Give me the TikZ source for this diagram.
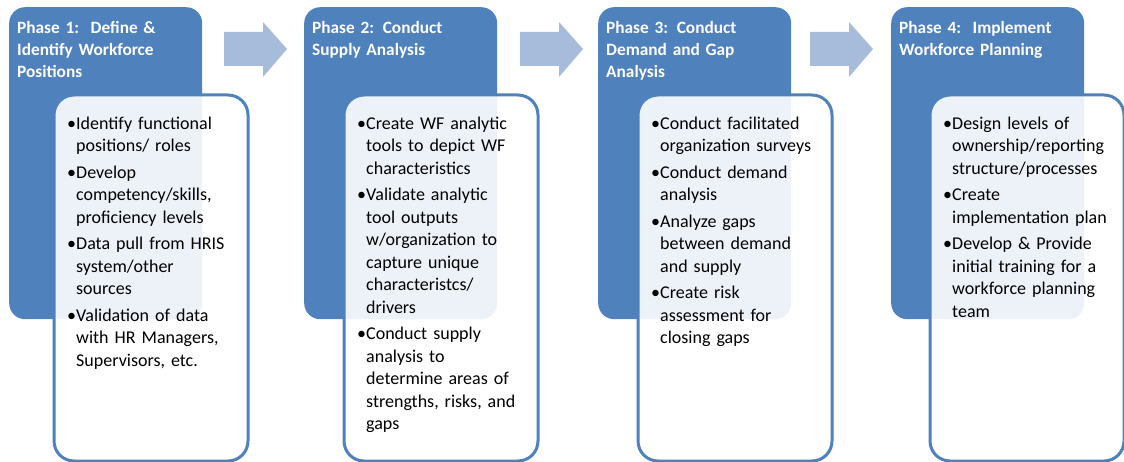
\documentclass[tikz,border=0pt]{standalone}
\usepackage{fontspec}
\setmainfont{Carlito}
\usepackage{xcolor}
\usepackage{tikz}
\usetikzlibrary{positioning}

\definecolor{phaseblue}{HTML}{4F81BD}
\definecolor{arrowblue}{HTML}{A7BBDA}
\newcommand{\bul}{\leavevmode\llap{\textbullet}}

\tikzset{
  headbox/.style={fill=phaseblue,rounded corners=16pt,anchor=north west,
    minimum width=193pt,minimum height=312pt,inner sep=0pt},
  bodybox/.style={draw=phaseblue,line width=3pt,fill=white,fill opacity=0.9,
    rounded corners=20pt,anchor=north west,minimum width=194pt,
    minimum height=366pt,inner sep=0pt},
  phasetitle/.style={anchor=base west,inner sep=0pt,text=white,align=left,
    text width=185pt,font=\fontsize{17.3}{22}\selectfont\bfseries},
  phaseitems/.style={anchor=base west,inner sep=0pt,align=left,
    text width=185pt,font=\fontsize{18}{22.5}\selectfont},
}

\begin{document}
\begin{tikzpicture}[x=1pt,y=-1pt,line cap=round]
\useasboundingbox (0,0) rectangle (1124,462);
% phase boxes
\foreach \i/\bx/\wx in {1/9/52.5,2/304/342.5,3/598/636.5,4/891/928.5}{
  \node[headbox] (head\i) at (\bx,7) {};
  \node[bodybox] (body\i) at (\wx,93.5) {};
}
% arrows between phases
\foreach \ax in {224,520,810}
  \fill[arrowblue] (\ax,32) -- (\ax+39,32) -- (\ax+39,22) -- (\ax+63,49)
    -- (\ax+39,77) -- (\ax+39,66) -- (\ax,66) -- cycle;
% titles
\node[phasetitle] (title1) at (17,34) {Phase 1:\ \ Define \&\\Identify Workforce\\Positions};
\node[phasetitle] (title2) at (312,34) {Phase 2: Conduct\\Supply Analysis};
\node[phasetitle] (title3) at (606,34) {Phase 3: Conduct\\Demand and Gap\\Analysis};
\node[phasetitle] (title4) at (899,34) {Phase 4:\ \ Implement\\Workforce Planning};
% bullet lists
\node[phaseitems] (list1) at (76,129.5) {\bul Identify functional\\positions/ roles\\[4pt]
  \bul Develop\\competency/skills,\\proficiency levels\\[4pt]
  \bul Data pull from HRIS\\system/other\\sources\\[4pt]
  \bul Validation of data\\with HR Managers,\\Supervisors, etc.};
\node[phaseitems] (list2) at (366,129.5) {\bul Create WF analytic\\tools to depict WF\\characteristics\\[4pt]
  \bul Validate analytic\\tool outputs\\w/organization to\\capture unique\\characteristcs/\\drivers\\[4pt]
  \bul Conduct supply\\analysis to\\determine areas of\\strengths, risks, and\\gaps};
\node[phaseitems] (list3) at (660,129.5) {\bul Conduct facilitated\\organization surveys\\[4pt]
  \bul Conduct demand\\analysis\\[4pt]
  \bul Analyze gaps\\between demand\\and supply\\[4pt]
  \bul Create risk\\assessment for\\closing gaps};
\node[phaseitems] (list4) at (952,129.5) {\bul Design levels of\\ownership/reporting\\structure/processes\\[4pt]
  \bul Create\\implementation plan\\[4pt]
  \bul Develop \& Provide\\initial training for a\\workforce planning\\team};
\end{tikzpicture}
\end{document}
